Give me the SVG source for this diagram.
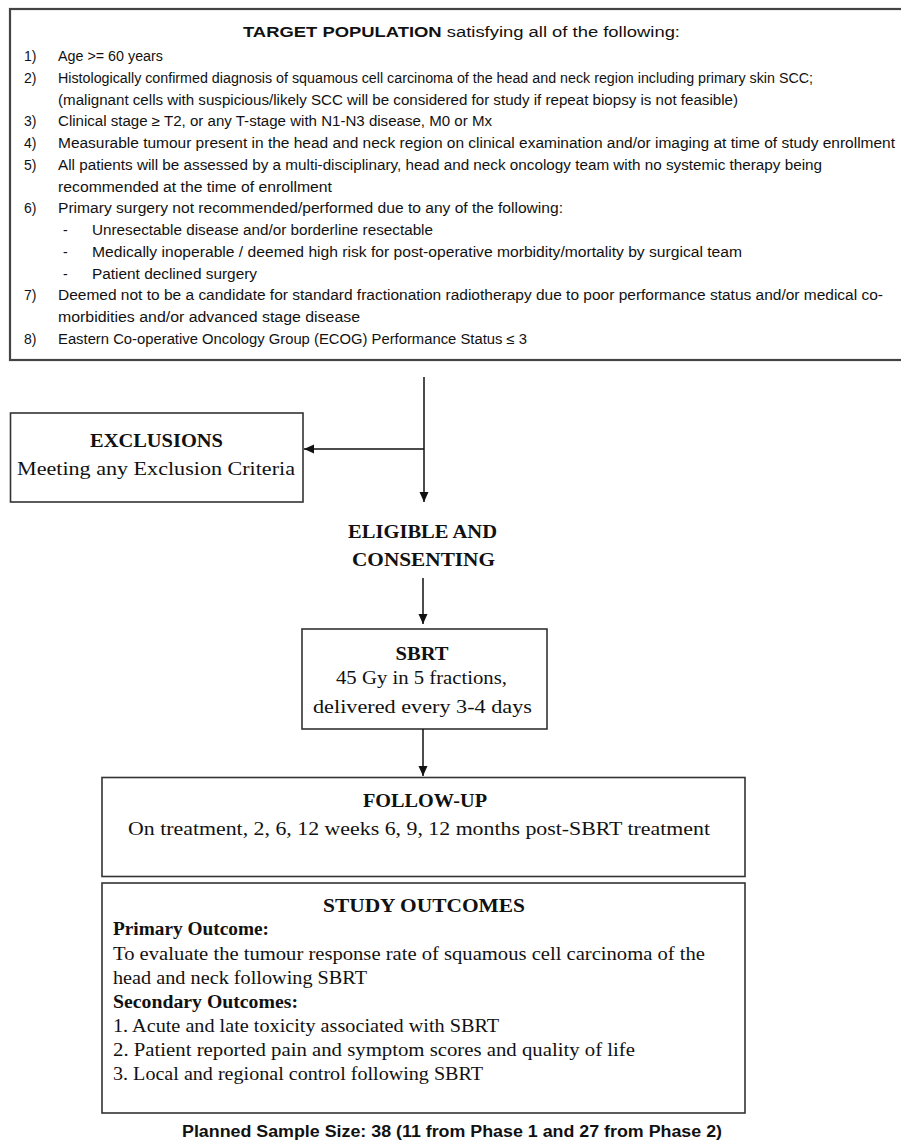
<svg xmlns="http://www.w3.org/2000/svg" width="901" height="1145" viewBox="0 0 901 1145">
<defs>
<style>
.box{fill:#fff;stroke:#333;stroke-width:1.6}
.top{fill:#fff;stroke:#444;stroke-width:2.2}
.sans{font-family:"Liberation Sans",Arial,sans-serif;font-size:14px;fill:#111}
.ttl{font-family:"Liberation Sans",Arial,sans-serif;font-size:15.5px;fill:#111}
.ser{font-family:"Liberation Serif","Times New Roman",serif;font-size:19px;fill:#111}
.ser2{font-family:"Liberation Serif","Times New Roman",serif;font-size:18.5px;fill:#111}
.b{font-weight:bold}
.mid{text-anchor:middle}
.ln{stroke:#111;stroke-width:1.5;fill:none}
</style>
<marker id="ah" viewBox="0 0 10 10" refX="10" refY="5" markerWidth="10" markerHeight="10" markerUnits="userSpaceOnUse" orient="auto">
<path d="M0,0.5 L10,5 L0,9.5 z" fill="#111"/>
</marker>
</defs>
<rect width="901" height="1145" fill="#fff"/>

<g id="target">
<rect class="top" x="10" y="9" width="930" height="351"/>
<text class="ttl" x="243" y="37" textLength="437" lengthAdjust="spacingAndGlyphs"><tspan class="b">TARGET POPULATION</tspan> satisfying all of the following:</text>
<g class="sans">
<text x="24" y="61">1)</text><text x="58" y="61" textLength="105" lengthAdjust="spacingAndGlyphs">Age &gt;= 60 years</text>
<text x="24" y="82.75">2)</text><text x="58" y="82.75" textLength="755" lengthAdjust="spacingAndGlyphs">Histologically confirmed diagnosis of squamous cell carcinoma of the head and neck region including primary skin SCC;</text>
<text x="58" y="104.5" textLength="680" lengthAdjust="spacingAndGlyphs">(malignant cells with suspicious/likely SCC will be considered for study if repeat biopsy is not feasible)</text>
<text x="24" y="126.25">3)</text><text x="58" y="126.25" textLength="434" lengthAdjust="spacingAndGlyphs">Clinical stage ≥ T2, or any T-stage with N1-N3 disease, M0 or Mx</text>
<text x="24" y="148">4)</text><text x="58" y="148" textLength="837" lengthAdjust="spacingAndGlyphs">Measurable tumour present in the head and neck region on clinical examination and/or imaging at time of study enrollment</text>
<text x="24" y="169.75">5)</text><text x="58" y="169.75" textLength="764" lengthAdjust="spacingAndGlyphs">All patients will be assessed by a multi-disciplinary, head and neck oncology team with no systemic therapy being</text>
<text x="58" y="191.5" textLength="274" lengthAdjust="spacingAndGlyphs">recommended at the time of enrollment</text>
<text x="24" y="213.25">6)</text><text x="58" y="213.25" textLength="505" lengthAdjust="spacingAndGlyphs">Primary surgery not recommended/performed due to any of the following:</text>
<text x="63" y="235">-</text><text x="92" y="235" textLength="341" lengthAdjust="spacingAndGlyphs">Unresectable disease and/or borderline resectable</text>
<text x="63" y="256.75">-</text><text x="92" y="256.75" textLength="650" lengthAdjust="spacingAndGlyphs">Medically inoperable / deemed high risk for post-operative morbidity/mortality by surgical team</text>
<text x="63" y="278.5">-</text><text x="92" y="278.5" textLength="165" lengthAdjust="spacingAndGlyphs">Patient declined surgery</text>
<text x="24" y="300.25">7)</text><text x="58" y="300.25" textLength="825" lengthAdjust="spacingAndGlyphs">Deemed not to be a candidate for standard fractionation radiotherapy due to poor performance status and/or medical co-</text>
<text x="58" y="322" textLength="302" lengthAdjust="spacingAndGlyphs">morbidities and/or advanced stage disease</text>
<text x="24" y="343.75">8)</text><text x="58" y="343.75" textLength="469" lengthAdjust="spacingAndGlyphs">Eastern Co-operative Oncology Group (ECOG) Performance Status ≤ 3</text>
</g>
</g>

<g id="exclusions">
<rect class="box" x="10.5" y="413" width="292.5" height="89"/>
<text class="ser b mid" x="156.5" y="447" textLength="133" lengthAdjust="spacingAndGlyphs">EXCLUSIONS</text>
<text class="ser mid" x="156" y="475" textLength="278" lengthAdjust="spacingAndGlyphs">Meeting any Exclusion Criteria</text>
</g>

<g id="eligible">
<text class="ser b mid" x="422.5" y="538" textLength="149" lengthAdjust="spacingAndGlyphs">ELIGIBLE AND</text>
<text class="ser b mid" x="423.5" y="566" textLength="143" lengthAdjust="spacingAndGlyphs">CONSENTING</text>
</g>

<g id="sbrt">
<rect class="box" x="302" y="629" width="245" height="100"/>
<text class="ser b mid" x="422" y="660" textLength="53" lengthAdjust="spacingAndGlyphs">SBRT</text>
<text class="ser mid" x="421.5" y="684" textLength="171" lengthAdjust="spacingAndGlyphs">45 Gy in 5 fractions,</text>
<text class="ser mid" x="422.5" y="713" textLength="219" lengthAdjust="spacingAndGlyphs">delivered every 3-4 days</text>
</g>

<g id="followup">
<rect class="box" x="102" y="777.5" width="643" height="99"/>
<text class="ser b mid" x="425" y="807" textLength="124" lengthAdjust="spacingAndGlyphs">FOLLOW-UP</text>
<text class="ser mid" x="419" y="835" textLength="582" lengthAdjust="spacingAndGlyphs">On treatment, 2, 6, 12 weeks 6, 9, 12 months post-SBRT treatment</text>
</g>

<g id="outcomes">
<rect class="box" x="102" y="883" width="643" height="230"/>
<text class="ser b mid" x="424" y="912" textLength="202" lengthAdjust="spacingAndGlyphs">STUDY OUTCOMES</text>
<text class="ser2 b" x="113" y="935" textLength="156" lengthAdjust="spacingAndGlyphs">Primary Outcome:</text>
<text class="ser2" x="113" y="960" textLength="592" lengthAdjust="spacingAndGlyphs">To evaluate the tumour response rate of squamous cell carcinoma of the</text>
<text class="ser2" x="113" y="984" textLength="254" lengthAdjust="spacingAndGlyphs">head and neck following SBRT</text>
<text class="ser2 b" x="113" y="1008" textLength="185" lengthAdjust="spacingAndGlyphs">Secondary Outcomes:</text>
<text class="ser2" x="113" y="1032" textLength="386" lengthAdjust="spacingAndGlyphs">1. Acute and late toxicity associated with SBRT</text>
<text class="ser2" x="113" y="1056" textLength="522" lengthAdjust="spacingAndGlyphs">2. Patient reported pain and symptom scores and quality of life</text>
<text class="ser2" x="113" y="1080" textLength="370" lengthAdjust="spacingAndGlyphs">3. Local and regional control following SBRT</text>
</g>

<g id="sample">
<text class="sans b" x="182" y="1137" style="font-size:16px" textLength="540" lengthAdjust="spacingAndGlyphs">Planned Sample Size: 38 (11 from Phase 1 and 27 from Phase 2)</text>
</g>

<g id="connectors">
<line class="ln" x1="424" y1="377" x2="424" y2="502" marker-end="url(#ah)"/>
<line class="ln" x1="424" y1="449" x2="304" y2="449" marker-end="url(#ah)"/>
<line class="ln" x1="423" y1="578" x2="423" y2="624" marker-end="url(#ah)"/>
<line class="ln" x1="423" y1="729" x2="423" y2="776" marker-end="url(#ah)"/>
</g>
</svg>
